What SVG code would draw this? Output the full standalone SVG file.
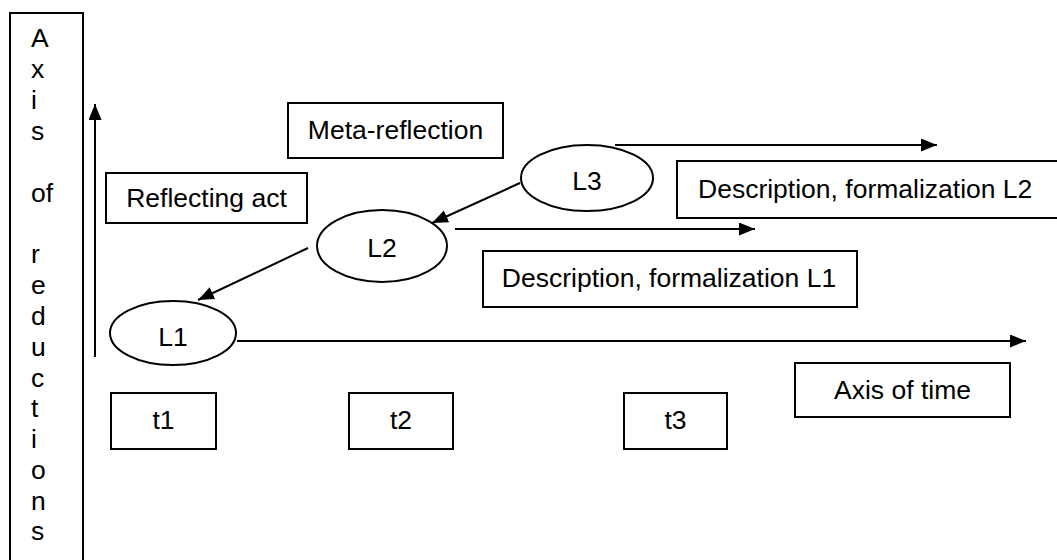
<svg xmlns="http://www.w3.org/2000/svg" width="1057" height="560" viewBox="0 0 1057 560">
<defs>
<marker id="ah" markerUnits="userSpaceOnUse" markerWidth="18" markerHeight="14" refX="16" refY="6.5" orient="auto">
<path d="M0,0 L16,6.5 L0,13 Z" fill="#000"/>
</marker>
<style>
text{font-family:"Liberation Sans",Arial,sans-serif;font-size:26.5px;fill:#000}
.box{fill:#fff;stroke:#000;stroke-width:2}
.ell{fill:#fff;stroke:#000;stroke-width:2}
.c{text-anchor:middle}
.con line{stroke:#000;stroke-width:2;marker-end:url(#ah)}
</style>
</defs>
<rect width="1057" height="560" fill="#fff"/>
<g id="axis-reductions">
<path d="M10,566 V13 H83 V566" class="box"/>
<text x="31" y="47">A</text>
<text x="31" y="78">x</text>
<text x="31" y="109">i</text>
<text x="31" y="140">s</text>
<text x="31" y="202">of</text>
<text x="31" y="263">r</text>
<text x="31" y="294">e</text>
<text x="31" y="325">d</text>
<text x="31" y="356">u</text>
<text x="31" y="387">c</text>
<text x="31" y="417">t</text>
<text x="31" y="448">i</text>
<text x="31" y="479">o</text>
<text x="31" y="510">n</text>
<text x="31" y="540">s</text>
</g>
<g id="meta-reflection">
<rect x="288" y="103" width="215" height="55" class="box"/>
<text x="395.5" y="139" class="c">Meta-reflection</text>
</g>
<g id="reflecting-act">
<rect x="106" y="173" width="201" height="50" class="box"/>
<text x="206.5" y="207" class="c">Reflecting act</text>
</g>
<g id="desc-l2">
<rect x="677" y="161" width="400" height="57" class="box"/>
<text x="698" y="198">Description, formalization L2</text>
</g>
<g id="desc-l1">
<rect x="483" y="251" width="374" height="56" class="box"/>
<text x="669" y="287" class="c">Description, formalization L1</text>
</g>
<g id="axis-time">
<rect x="795" y="363" width="215" height="54" class="box"/>
<text x="902.5" y="399" class="c">Axis of time</text>
</g>
<g id="t1">
<rect x="111" y="393" width="105" height="56" class="box"/>
<text x="163.5" y="429" class="c">t1</text>
</g>
<g id="t2">
<rect x="349" y="393" width="104" height="56" class="box"/>
<text x="401" y="429" class="c">t2</text>
</g>
<g id="t3">
<rect x="624" y="393" width="103" height="56" class="box"/>
<text x="675.5" y="429" class="c">t3</text>
</g>
<g class="con" id="connectors">
<line x1="95" y1="357" x2="95" y2="104"/>
<line x1="520" y1="183" x2="432" y2="223"/>
<line x1="308" y1="248" x2="198" y2="300"/>
<line x1="615" y1="145" x2="937" y2="145"/>
<line x1="455" y1="229" x2="755" y2="229"/>
<line x1="237" y1="341" x2="1026" y2="341"/>
</g>
<g id="L3">
<ellipse cx="587" cy="178" rx="66" ry="33" class="ell"/>
<text x="587" y="190" class="c">L3</text>
</g>
<g id="L2">
<ellipse cx="382" cy="246" rx="65" ry="36" class="ell"/>
<text x="382" y="257" class="c">L2</text>
</g>
<g id="L1">
<ellipse cx="173" cy="333" rx="63" ry="32" class="ell"/>
<text x="173" y="346" class="c">L1</text>
</g>
</svg>
